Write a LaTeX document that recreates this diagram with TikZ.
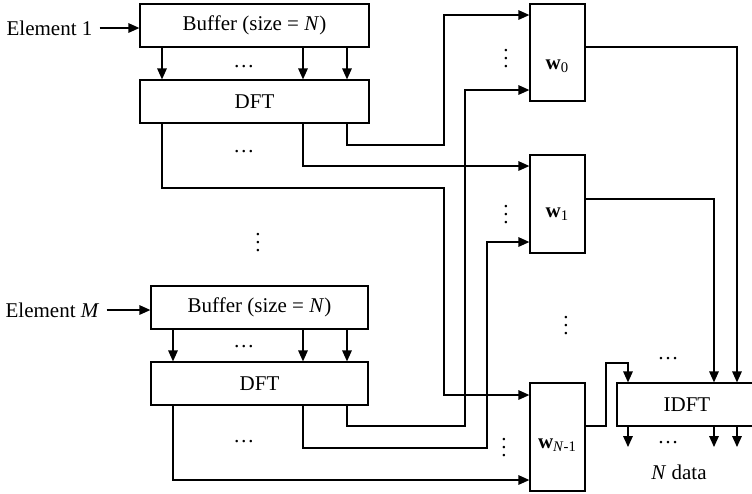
\documentclass[tikz,border=0pt]{standalone}
\usepackage{fontspec}
\setmainfont{Liberation Serif}
\usetikzlibrary{arrows.meta,positioning}

\begin{document}
\begin{tikzpicture}[x=0.5pt,y=-0.5pt,line width=0.65pt,>={Triangle[length=5.5pt,width=4.8pt]},
  every node/.style={font=\fontsize{10.5}{12}\selectfont},
  box/.style={rectangle,draw,minimum height=21.5pt,inner sep=0pt},
  wbox/.style={rectangle,draw,minimum width=27.5pt,inner sep=0pt},
  vdot/.style={inner sep=0pt}]
  \useasboundingbox (0,0) rectangle (752,494);
  % inputs and buffers
  \node (el1) at (49.5,28) {Element 1};
  \node (elM) at (52.5,310) {Element \textit{M}};
  \node[box,minimum width=114.5pt] (buf1) at (254.5,25.5) {Buffer (size = \textit{N})};
  \node[box,minimum width=114.5pt] (dft1) at (254.5,101.5) {DFT};
  \node[box,minimum width=108.5pt] (buf2) at (259.5,307.5) {Buffer (size = \textit{N})};
  \node[box,minimum width=108.5pt] (dft2) at (259.5,383.5) {DFT};
  % weights and IDFT
  \node[wbox,minimum height=48.5pt,label={[yshift=-7pt]center:\textbf{w}\textsubscript{0}}] (w0) at (557.5,52.5) {};
  \node[wbox,minimum height=49pt,label={[yshift=-5pt]center:\textbf{w}\textsubscript{1}}] (w1) at (557.5,204) {};
  \node[wbox,minimum height=54pt,label={[yshift=-4pt]center:\textbf{w}\textsubscript{\textit{N}-1}}] (wN) at (557.5,437) {};
  \node[box,minimum width=70pt] (idft) at (687,404.5) {IDFT};
  \node (ndata) at (679,472) {\textit{N} data};
  % dots
  \foreach \x/\y in {244/67,244/152,244/347,244/442,668/359,668/443}{\node at (\x,\y) {\ldots};}
  \foreach \x/\y in {506/53,506/209,504/442,258/237,566/320}{\node[vdot] at (\x,\y) {$\vdots$};}
  % connectors
  \draw[->] (el1.east) -- (el1.east -| buf1.west);
  \draw[->] (elM.east) -- (elM.east -| buf2.west);
  \foreach \x in {162,303,347}{\draw[->] (buf1.south -| \x,0) -- (dft1.north -| \x,0);}
  \foreach \x in {173,303,347}{\draw[->] (buf2.south -| \x,0) -- (dft2.north -| \x,0);}
  \draw[->] (dft1.south -| 347,0) |- (444,145) |- (w0.west |- 0,15);
  \draw[->] (dft1.south -| 303,0) |- (w1.west |- 0,166);
  \draw[->] (dft1.south -| 162,0) |- (444,188) |- (wN.west |- 0,395);
  \draw[->] (dft2.south -| 347,0) |- (465,426) |- (w0.west |- 0,90);
  \draw[->] (dft2.south -| 303,0) |- (487,448) |- (w1.west |- 0,242);
  \draw[->] (dft2.south -| 173,0) |- (wN.west |- 0,480);
  \draw[->] (w0.east |- 0,47) -| (idft.north -| 737,0);
  \draw[->] (w1.east |- 0,199) -| (idft.north -| 714,0);
  \draw[->] (wN.east |- 0,426) -| (606,363) -| (idft.north -| 628,0);
  \foreach \x in {628,714,737}{\draw[->] (idft.south -| \x,0) -- (\x,447);}
\end{tikzpicture}
\end{document}
